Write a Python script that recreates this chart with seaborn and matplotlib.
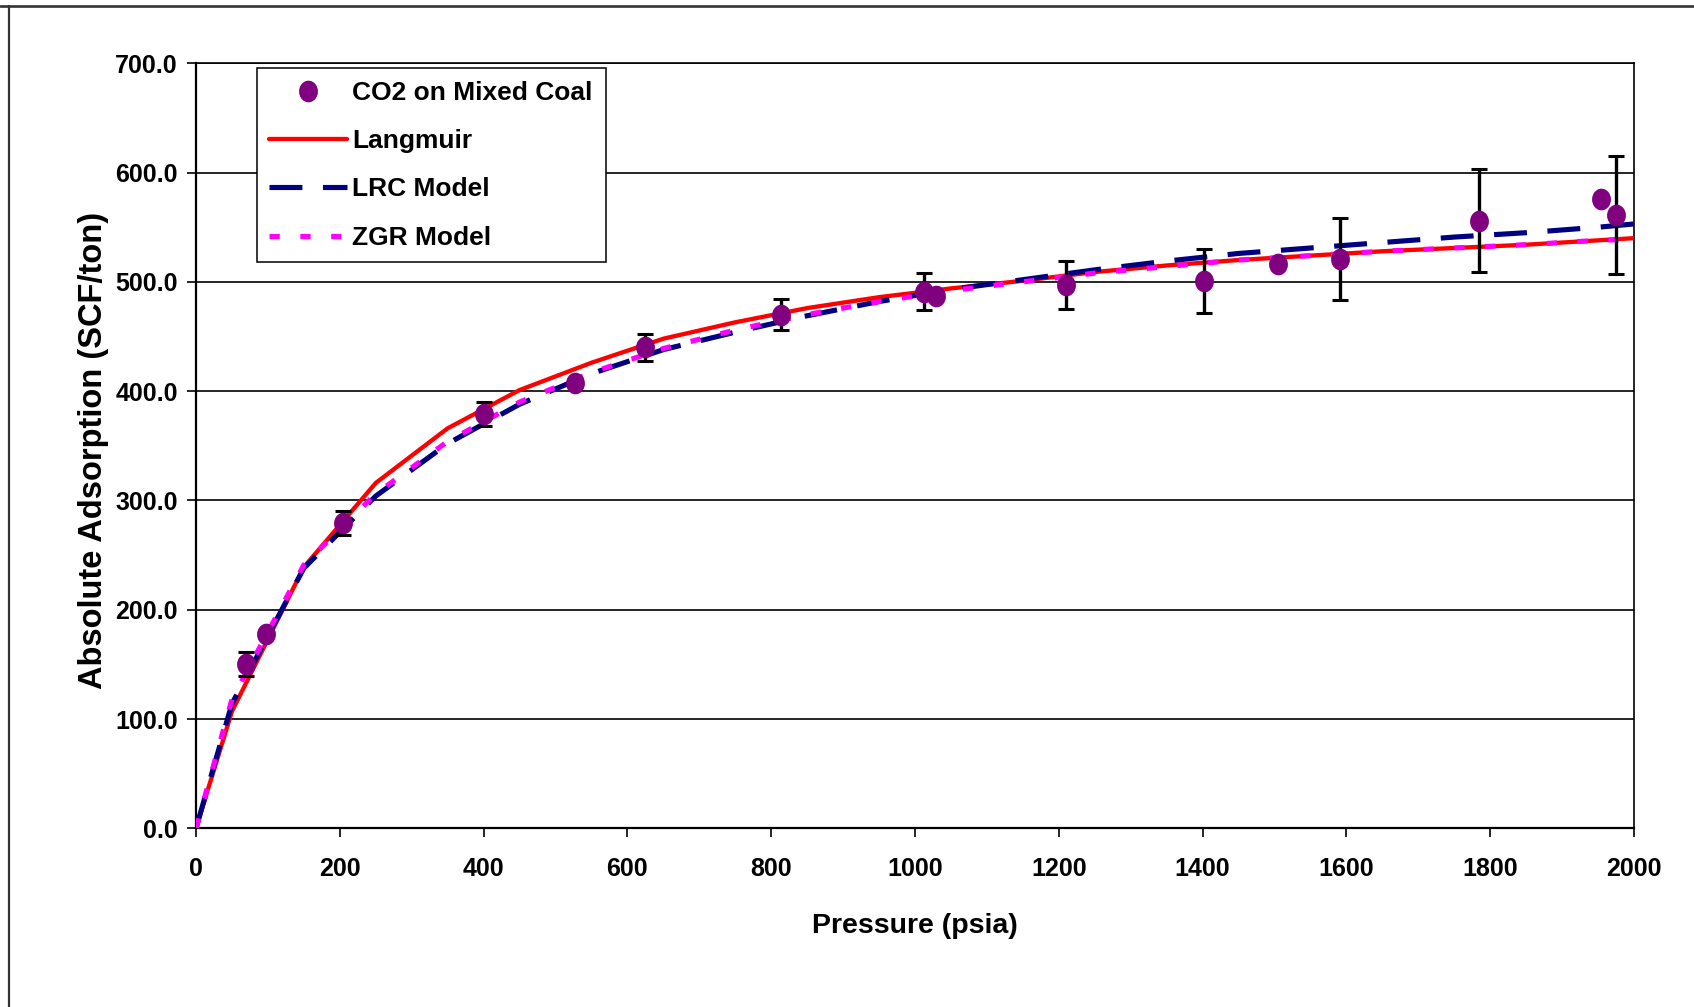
import numpy as np
import matplotlib
matplotlib.use("Agg")
import matplotlib.pyplot as plt
import matplotlib.path as mpath
from matplotlib.markers import MarkerStyle
from matplotlib.lines import Line2D
import seaborn as sns

# Measured isotherm: CO2 on mixed coal
pressure = [70, 98, 205, 401, 527, 624, 814, 1012, 1029, 1210, 1402, 1505, 1591, 1784, 1954, 1975]
adsorption = [150.5, 177.5, 279, 379.5, 407.5, 440, 470, 491, 487, 497, 501, 516, 520.5, 556, 576, 561]
error = [11, 0, 11, 11, 0, 12.5, 14, 17, 0, 22, 29.5, 0, 37.5, 47, 0, 54]

# Model curves
model_pressure = [0, 50, 150, 250, 350, 450, 550, 650, 750, 850, 950, 1050,
                  1150, 1250, 1350, 1450, 1550, 1650, 1750, 1850, 1950, 2000]
langmuir = [0, 107, 239, 316, 366, 401, 426, 448, 463, 476, 486, 494,
            501, 509, 515, 520, 524, 528, 531, 534, 538, 540]
lrc = [0, 114, 238, 304, 352, 388, 416, 438, 454, 469, 482, 493,
       502, 511, 519, 526, 531, 536, 541, 545, 550, 553]
zgr = [0, 118, 241, 306, 354, 390, 417, 439, 456, 470, 482, 492,
       500, 508, 514, 520, 524, 528, 531, 534, 538, 539]

x_ticks = [0, 200, 400, 600, 800, 1000, 1200, 1400, 1600, 1800, 2000]
y_ticks = [0, 100, 200, 300, 400, 500, 600, 700]

series_labels = ["CO2 on Mixed Coal", "Langmuir", "LRC Model", "ZGR Model"]

sns.set_style("white")
plt.rcParams["font.family"] = ["Liberation Sans", "DejaVu Sans"]
plt.rcParams["font.weight"] = "bold"
for key in ["text.color", "axes.labelcolor", "xtick.color", "ytick.color"]:
    plt.rcParams[key] = "black"

PURPLE = "#800080"
RED = "#FF0000"
NAVY = "#000080"
MAGENTA = "#FF00FF"

W, H = 1694, 1007
fig = plt.figure(figsize=(W / 100, H / 100), dpi=100)
fig.patch.set_facecolor("white")
ax = fig.add_axes([196 / W, 1 - 828.3 / H, (1634 - 196) / W, (828.3 - 63.3) / H])

# slightly tall elliptical marker
circ = mpath.Path.unit_circle()
ellipse = MarkerStyle(mpath.Path(circ.vertices * np.array([0.87, 1.0]), circ.codes))

# model curves
sns.lineplot(x=model_pressure, y=langmuir, ax=ax, color=RED, lw=3.1,
             sort=False, estimator=None, zorder=3)
sns.lineplot(x=model_pressure, y=lrc, ax=ax, color=NAVY, lw=3.7,
             sort=False, estimator=None, zorder=3)
ax.lines[-1].set_dashes((6.4, 4.0))
ax.lines[-1].set_dash_capstyle("butt")
sns.lineplot(x=model_pressure, y=zgr, ax=ax, color=MAGENTA, lw=3.7,
             sort=False, estimator=None, zorder=3)
ax.lines[-1].set_dashes((2.0, 4.0))
ax.lines[-1].set_dash_capstyle("butt")

# error bars on the measured points
ep = [p for p, e in zip(pressure, error) if e > 0]
ev = [v for v, e in zip(adsorption, error) if e > 0]
ee = [e for e in error if e > 0]
ax.errorbar(ep, ev, yerr=ee, fmt="none", ecolor="black", elinewidth=2.4,
            capsize=5.5, capthick=2.2, zorder=4)

sns.scatterplot(x=pressure, y=adsorption, ax=ax, marker=ellipse, s=15.6 ** 2,
                color=PURPLE, edgecolor=PURPLE, linewidth=0, zorder=5, legend=False)

# axes
ax.set_xlim(0, 2000)
ax.set_ylim(0, 700)
ax.set_xticks(x_ticks)
ax.set_yticks(y_ticks)
ax.set_xticklabels([str(t) for t in x_ticks])
ax.set_yticklabels([f"{t:.1f}" for t in y_ticks])
for lab in ax.get_xticklabels() + ax.get_yticklabels():
    lab.set_fontsize(18)
    lab.set_fontweight("bold")
    lab.set_color("black")
ax.tick_params(axis="both", direction="out", length=6.5, width=1.2, colors="black")
ax.tick_params(axis="x", pad=14.5, bottom=True)
ax.tick_params(axis="y", pad=6.5, left=True)

ax.yaxis.grid(True, color="black", lw=1.2)
ax.xaxis.grid(False)
ax.set_axisbelow(True)

for side in ["left", "bottom"]:
    ax.spines[side].set_linewidth(1.6)
    ax.spines[side].set_color("black")
for side in ["top", "right"]:
    ax.spines[side].set_linewidth(1.2)
    ax.spines[side].set_color("black")
    ax.spines[side].set_visible(True)

ax.set_xlabel("Pressure (psia)", fontsize=20.5, fontweight="bold", color="black")
ax.set_ylabel("Absolute Adsorption (SCF/ton)", fontsize=23.5, fontweight="bold", color="black")
ax.xaxis.set_label_coords(0.5, (828.3 - 926) / 765)
ax.xaxis.label.set_va("center")
ax.yaxis.set_label_coords((93 - 196) / 1438, 0.4945)
ax.yaxis.label.set_va("center")
ax.yaxis.label.set_ha("center")

# legend
handles = [
    Line2D([], [], ls="none", marker=ellipse, markersize=15.6, color=PURPLE, mec=PURPLE, mew=0),
    Line2D([], [], color=RED, lw=3.1),
    Line2D([], [], color=NAVY, lw=3.7, dashes=(6.4, 4.0), dash_capstyle="butt"),
    Line2D([], [], color=MAGENTA, lw=3.7, dashes=(2.0, 4.0), dash_capstyle="butt"),
]
leg = ax.legend(handles, series_labels, loc="upper left",
                bbox_to_anchor=(0.0422, 0.9935), borderaxespad=0,
                frameon=True, fancybox=False, edgecolor="black", framealpha=1,
                prop={"family": ["Liberation Sans", "DejaVu Sans"], "weight": "bold", "size": 19},
                handlelength=2.95, handletextpad=0.2, borderpad=0.48, labelspacing=0.92)
leg.get_frame().set_linewidth(1.1)
for txt in leg.get_texts():
    txt.set_color("black")
leg.set_zorder(10)

# outer frame edges
fig.add_artist(Line2D([0, 1], [1 - 5.7 / H, 1 - 5.7 / H], transform=fig.transFigure,
                      color="#333333", lw=1.9))
fig.add_artist(Line2D([9 / W, 9 / W], [0, 1 - 5.7 / H], transform=fig.transFigure,
                      color="#333333", lw=1.6))

fig.savefig("out.png", dpi=100, facecolor="white")
